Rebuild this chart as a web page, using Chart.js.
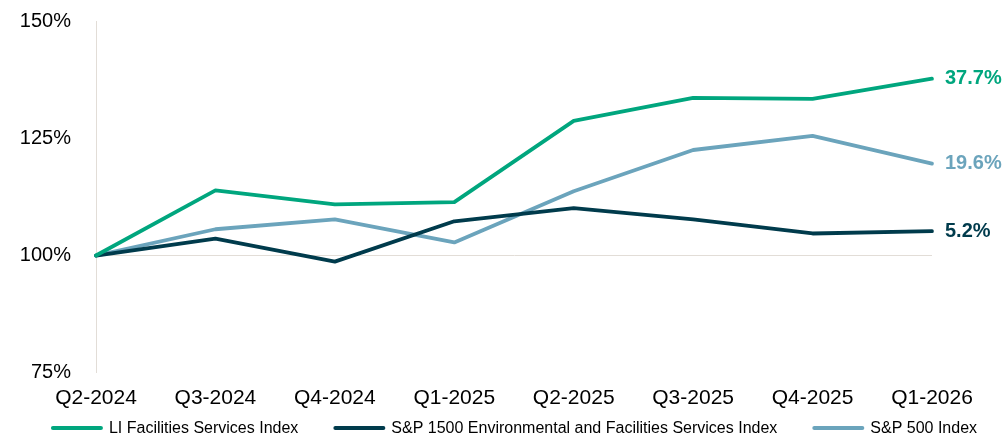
<!DOCTYPE html>
<html><head><meta charset="utf-8">
<script src="https://cdn.jsdelivr.net/npm/chart.js@4"></script>
<style>html,body{margin:0;padding:0;background:#fff}#wrap{width:1004px;height:436px}</style>
</head><body><div id="wrap"><canvas id="c" width="1004" height="436"></canvas></div>
<script>
const categories = ["Q2-2024","Q3-2024","Q4-2024","Q1-2025","Q2-2025","Q3-2025","Q4-2025","Q1-2026"];
const liFacilities = [100, 113.9, 110.9, 111.4, 128.7, 133.6, 133.4, 137.7];
const sp1500Env = [100, 103.6, 98.7, 107.3, 110.1, 107.7, 104.7, 105.2];
const sp500 = [100, 105.6, 107.7, 102.8, 113.7, 122.5, 125.5, 119.6];
const endLabels = ["37.7%", "5.2%", "19.6%"];
const yTicks = [75, 100, 125, 150];

const font = "'Liberation Sans', Arial, sans-serif";
const colors = ["#00A67E", "#003B4C", "#6BA4BC"];

const endLabelPlugin = {
  id: 'endLabels',
  afterDatasetsDraw(chart) {
    const ctx = chart.ctx;
    ctx.save();
    ctx.font = "bold 20px " + font;
    ctx.textBaseline = 'middle';
    ctx.textAlign = 'left';
    chart.data.datasets.forEach((ds, i) => {
      const meta = chart.getDatasetMeta(i);
      const pt = meta.data[meta.data.length - 1];
      ctx.fillStyle = ds.borderColor;
      ctx.fillText(endLabels[i], pt.x + 13, pt.y);
    });
    ctx.restore();
  }
};

const legendPlugin = {
  id: 'lineLegend',
  afterDraw(chart) {
    const ctx = chart.ctx;
    ctx.save();
    ctx.font = "16px " + font;
    ctx.textBaseline = 'middle';
    ctx.textAlign = 'left';
    const sw = 52, gapText = 6, gapItem = 35;
    const items = chart.data.datasets.map(ds => ({ds, w: ctx.measureText(ds.label).width}));
    let total = 0;
    items.forEach((it, i) => { total += sw + gapText + it.w + (i < items.length - 1 ? gapItem : 0); });
    const ca = chart.chartArea;
    let x = (ca.left + ca.right) / 2 - total / 2;
    const y = 428;
    items.forEach(it => {
      ctx.strokeStyle = it.ds.borderColor;
      ctx.lineWidth = 4;
      ctx.lineCap = 'round';
      ctx.beginPath();
      ctx.moveTo(x + 2, y);
      ctx.lineTo(x + sw - 2, y);
      ctx.stroke();
      ctx.fillStyle = '#000';
      ctx.fillText(it.ds.label, x + sw + gapText, y + 1);
      x += sw + gapText + it.w + gapItem;
    });
    ctx.restore();
  }
};

new Chart(document.getElementById('c'), {
  type: 'line',
  data: {
    labels: categories,
    datasets: [
      {label: "LI Facilities Services Index", data: liFacilities, borderColor: colors[0], backgroundColor: colors[0]},
      {label: "S&P 1500 Environmental and Facilities Services Index", data: sp1500Env, borderColor: colors[1], backgroundColor: colors[1]},
      {label: "S&P 500 Index", data: sp500, borderColor: colors[2], backgroundColor: colors[2]}
    ].map(d => Object.assign(d, {borderWidth: 3.8, pointRadius: 0, tension: 0, fill: false, borderCapStyle: 'round', borderJoinStyle: 'round'}))
  },
  options: {
    responsive: false,
    animation: false,
    layout: {padding: {left: 0, right: 72, top: 21, bottom: 12}},
    plugins: {
      tooltip: {enabled: false},
      legend: {display: false}
    },
    scales: {
      x: {
        offset: false,
        grid: {display: false, drawTicks: false},
        border: {display: false},
        ticks: {font: {family: font, size: 21}, color: '#000', padding: 13, maxRotation: 0, autoSkip: false}
      },
      y: {
        min: 75, max: 150,
        afterBuildTicks: (axis) => { axis.ticks = yTicks.map(v => ({value: v})); },
        afterFit: (axis) => { axis.width = 96; axis.paddingTop = 12; axis.paddingBottom = 12; },
        grid: {
          drawTicks: false,
          color: (c) => c.tick && c.tick.value === 100 ? '#E2DDD7' : 'rgba(0,0,0,0)',
          lineWidth: 1
        },
        border: {display: true, color: '#E2DDD7', width: 1},
        ticks: {font: {family: font, size: 20}, color: '#000', padding: 25, callback: v => v + '%'}
      }
    }
  },
  plugins: [endLabelPlugin, legendPlugin]
});
</script>
</body></html>
